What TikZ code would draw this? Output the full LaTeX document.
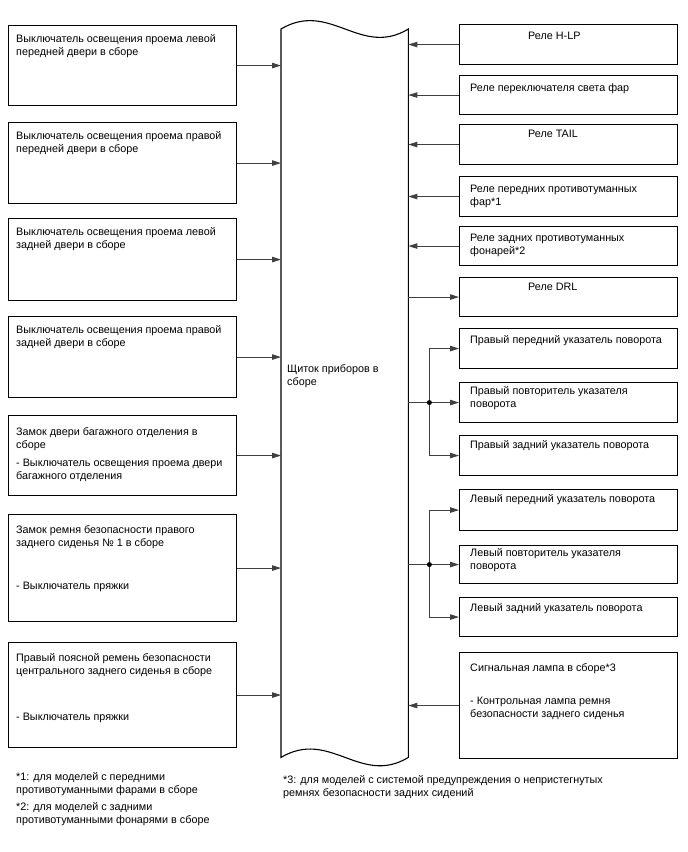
\documentclass[tikz,border=0pt]{standalone}
\usepackage{fontspec}
\setmainfont{Liberation Sans}
\usetikzlibrary{arrows.meta,calc}
\newcommand\topst{\rule{0pt}{10pt}}
\begin{document}
\begin{tikzpicture}[x=1pt,y=-1pt,
  box/.style={draw=black,line width=1.1pt,inner sep=0pt,anchor=north west},
  lbox/.style={box,minimum width=228pt},
  rbox/.style={box,minimum width=218pt},
  txt/.style={anchor=north west,inner sep=0pt,align=left,font=\fontsize{10.8}{13}\selectfont},
  conn/.style={draw=black!75,line width=0.9pt},
  arr/.style={conn,-{Triangle[length=9pt,width=5.5pt]}},
  jdot/.style={circle,fill=black,inner sep=0pt,minimum size=5pt}]
\useasboundingbox (0,0) rectangle (688,852);

% central panel
\node[inner sep=0pt,minimum width=127pt,minimum height=728pt,anchor=north west] (panel) at (281,29) {};
\draw[line width=1.1pt] (panel.north west) .. controls +(49,-29) and +(-48,29) .. (panel.north east)
  -- (panel.south east) .. controls +(-48,29) and +(49,-29) .. (panel.south west) -- cycle;
\node[txt] (pt) at (287,362) {\topst Щиток приборов в\\сборе};

% left boxes
\node[lbox,minimum height=80pt] (l1) at (8,25) {};
\node[lbox,minimum height=81pt] (l2) at (8,122) {};
\node[lbox,minimum height=82pt] (l3) at (8,218) {};
\node[lbox,minimum height=81pt] (l4) at (8,316) {};
\node[lbox,minimum height=80pt] (l5) at (8,415) {};
\node[lbox,minimum height=107pt] (l6) at (8,514) {};
\node[lbox,minimum height=105pt] (l7) at (8,642) {};

\node[txt] (l1t) at (16,32) {\topst Выключатель освещения проема левой\\передней двери в сборе};
\node[txt] (l2t) at (16,129) {\topst Выключатель освещения проема правой\\передней двери в сборе};
\node[txt] (l3t) at (16,225) {\topst Выключатель освещения проема левой\\задней двери в сборе};
\node[txt] (l4t) at (16,323) {\topst Выключатель освещения проема правой\\задней двери в сборе};
\node[txt] (l5t) at (16,425) {\topst Замок двери багажного отделения в\\сборе\\[5pt]- Выключатель освещения проема двери\\багажного отделения};
\node[txt] (l6t) at (16,523) {\topst Замок ремня безопасности правого\\заднего сиденья № 1 в сборе\\[30pt]- Выключатель пряжки};
\node[txt] (l7t) at (16,651) {\topst Правый поясной ремень безопасности\\центрального заднего сиденья в сборе\\[33pt]- Выключатель пряжки};

\foreach \b in {l1,l2,l3,l4,l5,l6,l7}
  \draw[arr] (\b.east) -- (\b.east -| panel.west);

% right boxes
\node[rbox,minimum height=40pt] (r1) at (459,24) {};
\node[rbox,minimum height=39pt] (r2) at (459,75) {};
\node[rbox,minimum height=40pt] (r3) at (459,124) {};
\node[rbox,minimum height=40pt] (r4) at (459,176) {};
\node[rbox,minimum height=39pt] (r5) at (459,226) {};
\node[rbox,minimum height=39pt] (r6) at (459,277) {};
\node[rbox,minimum height=40pt] (r7) at (459,328) {};
\node[rbox,minimum height=40pt] (r8) at (459,382) {};
\node[rbox,minimum height=40pt] (r9) at (459,435) {};
\node[rbox,minimum height=41pt] (r10) at (459,489) {};
\node[rbox,minimum height=38pt] (r11) at (459,545) {};
\node[rbox,minimum height=39pt] (r12) at (459,597) {};
\node[rbox,minimum height=106pt] (r13) at (459,652) {};

\node[txt] (r1t) at (528,29) {\topst Реле H-LP};
\node[txt] (r2t) at (470,81) {\topst Реле переключателя света фар};
\node[txt] (r3t) at (528,127) {\topst Реле TAIL};
\node[txt] (r4t) at (470,182) {\topst Реле передних противотуманных\\фар*1};
\node[txt] (r5t) at (470,231) {\topst Реле задних противотуманных\\фонарей*2};
\node[txt] (r6t) at (528,280) {\topst Реле DRL};
\node[txt] (r7t) at (470,333) {\topst Правый передний указатель поворота};
\node[txt] (r8t) at (470,384) {\topst Правый повторитель указателя\\поворота};
\node[txt] (r9t) at (470,438) {\topst Правый задний указатель поворота};
\node[txt] (r10t) at (470,492) {\topst Левый передний указатель поворота};
\node[txt] (r11t) at (470,546) {\topst Левый повторитель указателя\\поворота};
\node[txt] (r12t) at (470,601) {\topst Левый задний указатель поворота};
\node[txt] (r13t) at (470,661) {\topst Сигнальная лампа в сборе*3\\[20pt]- Контрольная лампа ремня\\безопасности заднего сиденья};

\foreach \b in {r1,r2,r3,r4,r5,r13}
  \draw[arr] (\b.west) -- (\b.west -| panel.east);
\draw[arr] (r6.west -| panel.east) -- (r6.west);

% right turn group
\coordinate (j1) at ([xshift=21pt]r8.west -| panel.east);
\draw[conn] (r8.west -| panel.east) -- (j1);
\draw[conn] (j1 |- r7.west) -- (j1 |- r9.west);
\draw[arr] (j1 |- r7.west) -- (r7.west);
\draw[arr] (j1) -- (r8.west);
\draw[arr] (j1 |- r9.west) -- (r9.west);
\node[jdot] (d1) at (j1) {};

% left turn group
\coordinate (j2) at ([xshift=21pt]r11.west -| panel.east);
\draw[conn] (r11.west -| panel.east) -- (j2);
\draw[conn] (j2 |- r10.west) -- (j2 |- r12.west);
\draw[arr] (j2 |- r10.west) -- (r10.west);
\draw[arr] (j2) -- (r11.west);
\draw[arr] (j2 |- r12.west) -- (r12.west);
\node[jdot] (d2) at (j2) {};

% footnotes
\node[txt] (f1) at (16,770) {\topst *1: для моделей с передними\\противотуманными фарами в сборе};
\node[txt] (f2) at (16,800) {\topst *2: для моделей с задними\\противотуманными фонарями в сборе};
\node[txt] (f3) at (283,773) {\topst *3: для моделей с системой предупреждения о непристегнутых\\ремнях безопасности задних сидений};
\end{tikzpicture}
\end{document}
